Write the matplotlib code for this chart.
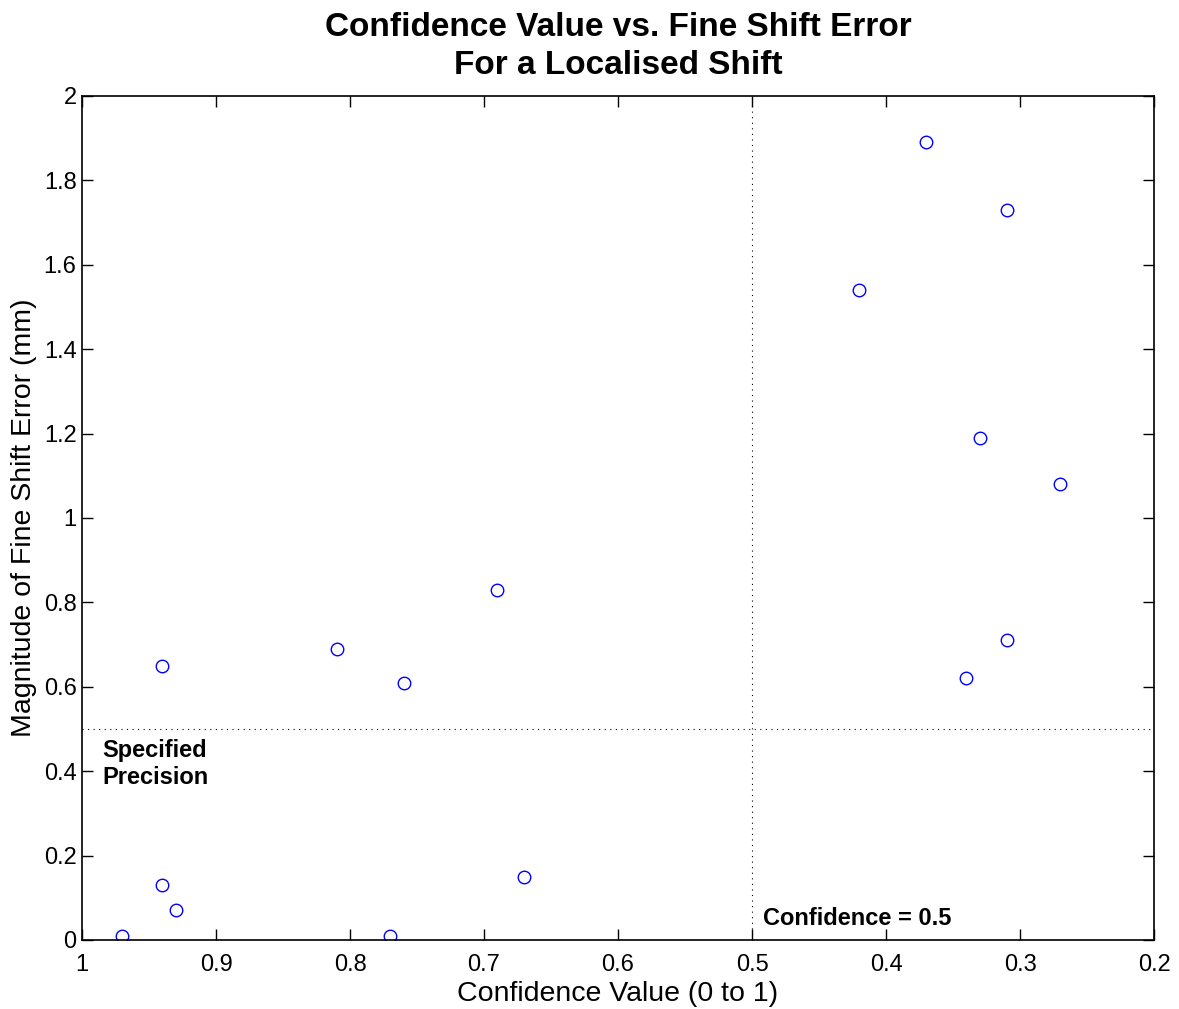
import matplotlib
matplotlib.use('Agg')
import matplotlib.pyplot as plt

plt.rcParams['font.family'] = ['Liberation Sans', 'DejaVu Sans']

# Confidence value (x) and fine shift error magnitude in mm (y)
confidence = [0.94, 0.81, 0.76, 0.69, 0.97, 0.94, 0.93, 0.77, 0.67,
              0.37, 0.31, 0.42, 0.33, 0.27, 0.31, 0.34]
shift_error = [0.65, 0.69, 0.61, 0.83, 0.01, 0.13, 0.07, 0.01, 0.15,
               1.89, 1.73, 1.54, 1.19, 1.08, 0.71, 0.62]

x_ticks = [1, 0.9, 0.8, 0.7, 0.6, 0.5, 0.4, 0.3, 0.2]
x_tick_labels = ['1', '0.9', '0.8', '0.7', '0.6', '0.5', '0.4', '0.3', '0.2']
y_ticks = [0, 0.2, 0.4, 0.6, 0.8, 1.0, 1.2, 1.4, 1.6, 1.8, 2.0]
y_tick_labels = ['0', '0.2', '0.4', '0.6', '0.8', '1', '1.2', '1.4', '1.6', '1.8', '2']

precision_limit = 0.5
confidence_limit = 0.5

fig = plt.figure(figsize=(11.79, 10.09), dpi=100)
ax = fig.add_axes([0.0696, 0.0684, 0.9092, 0.8365])

ax.plot(confidence, shift_error, 'o', markerfacecolor='none',
        markeredgecolor='blue', markersize=9, markeredgewidth=1.0)

# threshold lines
ax.axhline(precision_limit, color='black', linestyle=(0, (1, 4)), linewidth=0.8)
ax.axvline(confidence_limit, color='black', linestyle=(0, (1, 4)), linewidth=0.8)

ax.text(0.985, 0.417, 'Specified\nPrecision', fontsize=17, fontweight='bold',
        ha='left', va='center', linespacing=1.2)
ax.text(0.492, 0.05, 'Confidence = 0.5', fontsize=17, fontweight='bold',
        ha='left', va='center')

ax.set_xlim(1, 0.2)
ax.set_ylim(0, 2)
ax.set_xticks(x_ticks)
ax.set_xticklabels(x_tick_labels)
ax.set_yticks(y_ticks)
ax.set_yticklabels(y_tick_labels)
ax.tick_params(direction='in', top=True, right=True, length=8, width=1,
               labelsize=17)
ax.tick_params(axis='x', pad=10)
ax.tick_params(axis='y', pad=4)
for sp in ax.spines.values():
    sp.set_linewidth(1.2)

ax.set_xlabel('Confidence Value (0 to 1)', fontsize=20.5, labelpad=4)
ax.set_ylabel('Magnitude of Fine Shift Error (mm)', fontsize=20.5, labelpad=5)
ax.set_title('Confidence Value vs. Fine Shift Error\nFor a Localised Shift',
             fontsize=24, fontweight='bold', pad=16, linespacing=1.28)

fig.savefig('out.png', dpi=100)
